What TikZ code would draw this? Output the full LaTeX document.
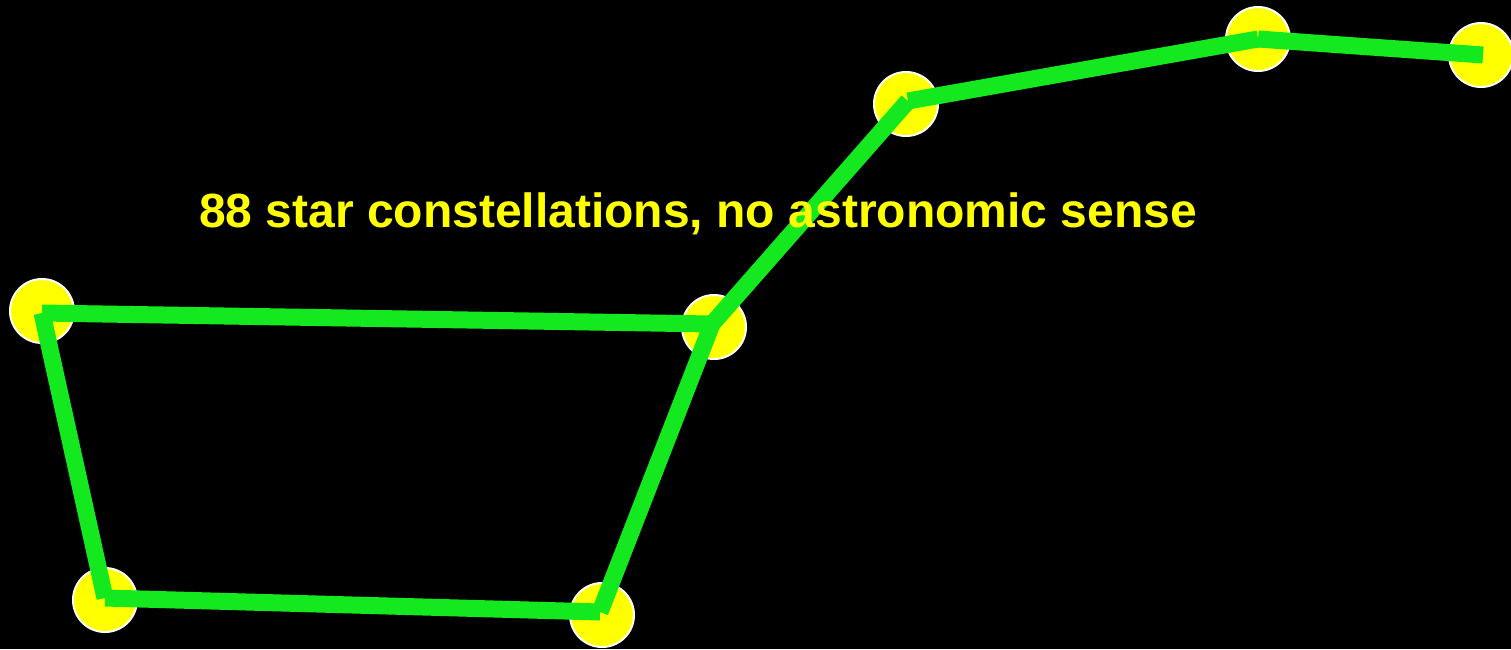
\documentclass[tikz,border=0pt]{standalone}
\usepackage{fontspec}
\setmainfont{Liberation Sans}
\usepackage{xcolor}
\definecolor{linegreen}{RGB}{20,232,30}
\definecolor{staryellow}{RGB}{255,255,0}

\begin{document}
\begin{tikzpicture}[x=1pt, y=-1pt, star/.style={draw=white, line width=2pt, fill=staryellow, circle, inner sep=0pt, minimum size=64pt}, link/.style={linegreen, line width=17pt, line cap=butt}]
\fill[black] (0,0) rectangle (1511,649);
\useasboundingbox (0,0) rectangle (1511,649);
\node[star] (s1) at (42,311) {};
\node[star] (s2) at (105,600) {};
\node[star] (s3) at (602,615) {};
\node[star] (s4) at (714,327) {};
\node[star] (s5) at (906,104) {};
\node[star] (s6) at (1258,39) {};
\node[star] (s7) at (1481,55) {};
\coordinate (p1) at (42,313);
\coordinate (p2) at (105,598);
\coordinate (p3) at (600,612);
\coordinate (p4) at (712,324);
\coordinate (p5) at (908,101);
\coordinate (p6) at (1258,39);
\coordinate (p7) at (1483,55);
\draw[link] (p1) -- (p2);
\draw[link] (p2) -- (p3);
\draw[link] (p3) -- (p4);
\draw[link] (p4) -- (p1);
\draw[link] (p4) -- (p5);
\draw[link] (p5) -- (p6);
\draw[link] (p6) -- (p7);
\node[anchor=base, text=staryellow, font=\fontsize{48}{58}\selectfont\bfseries, inner sep=0pt] (title) at (698,227) {88 star constellations, no astronomic sense};
\end{tikzpicture}
\end{document}
